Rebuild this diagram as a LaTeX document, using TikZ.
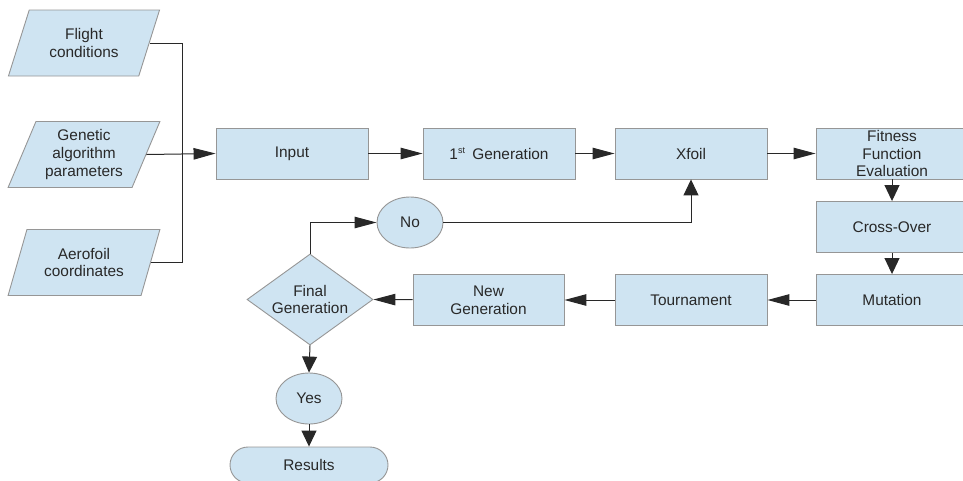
\documentclass[tikz,border=0pt]{standalone}
\usepackage{fontspec}
\setmainfont{Liberation Sans}
\usetikzlibrary{shapes.geometric,arrows.meta}
\definecolor{boxfill}{RGB}{207,228,242}
\definecolor{boxline}{RGB}{150,150,150}
\definecolor{ink}{RGB}{40,40,40}
\tikzset{
  base/.style={draw=boxline, line width=0.9pt, fill=boxfill, text=ink, inner sep=0pt,
    font=\fontsize{15.4}{17.7}\selectfont, align=center},
  procbox/.style={base, rectangle, minimum width=152pt, minimum height=51pt},
  databox/.style={base, trapezium, trapezium left angle=65.6, trapezium right angle=114.4,
    trapezium stretches=true, minimum width=152pt, minimum height=66pt},
  decision/.style={base, diamond, minimum width=126pt, minimum height=91pt, aspect=1.38},
  answer/.style={base, ellipse, minimum width=66pt, minimum height=51pt},
  terminal/.style={base, rectangle, rounded corners=18pt, minimum width=158pt, minimum height=36pt},
  link/.style={draw=ink, line width=1pt},
  hflow/.style={link, -{Triangle[length=22pt,width=11.5pt]}},
  vflow/.style={link, -{Triangle[length=16pt,width=15pt]}}
}
\begin{document}
\begin{tikzpicture}[x=1pt,y=-1pt]
\useasboundingbox (0,0) rectangle (963,480);
\clip (0,0) rectangle (963,480);

% input data
\node[databox] (flight) at (84,43)    {Flight\\conditions};
\node[databox] (ga)     at (84,154.5) {Genetic\\algorithm\\parameters};
\node[databox] (aero)   at (84,262.5) {Aerofoil\\coordinates};
\coordinate (bus) at (182,154.5);

% main chain
\node[procbox] (input)   at (292,153.5) {Input};
\node[procbox] (gen1)    at (499,153.5) {1\textsuperscript{\fontsize{9}{9}\selectfont st}\, Generation};
\node[procbox] (xfoil)   at (691,153.5) {Xfoil};
\node[procbox] (fitness) at (892,153.5) {Fitness\\Function\\Evaluation};
\node[procbox] (cross)   at (892,227)   {Cross-Over};
\node[procbox] (mut)     at (892,300)   {Mutation};
\node[procbox] (tour)    at (691,300)   {Tournament};
\node[procbox, minimum width=151pt] (newgen) at (488.5,300) {New\\Generation};

% decision
\node[decision] (final) at (310,299.5) {Final\\Generation};
\node[answer]   (no)    at (410,222.5) {No};
\node[answer]   (yes)   at (309,398.5) {Yes};
\node[terminal] (res)   at (309,465)   {Results};

% connectors
\draw[link] (flight.east) -- (flight.east -| bus) -- (aero.east -| bus) -- (aero.east);
\draw[hflow] (ga.east) -- (input.west);
\draw[hflow] (input) -- (gen1);
\draw[hflow] (gen1) -- (xfoil);
\draw[hflow] (xfoil) -- (fitness);
\draw[vflow] (fitness) -- (cross);
\draw[vflow] (cross) -- (mut);
\draw[hflow] (mut) -- (tour);
\draw[hflow] (tour) -- (newgen);
\draw[hflow] (newgen) -- (final.east);
\draw[hflow] (final.north) |- (no.west);
\draw[vflow] (no.east) -| (xfoil.south);
\draw[vflow] (final.south) -- (yes.north);
\draw[vflow] (yes.south) -- (res.north);
\end{tikzpicture}
\end{document}
